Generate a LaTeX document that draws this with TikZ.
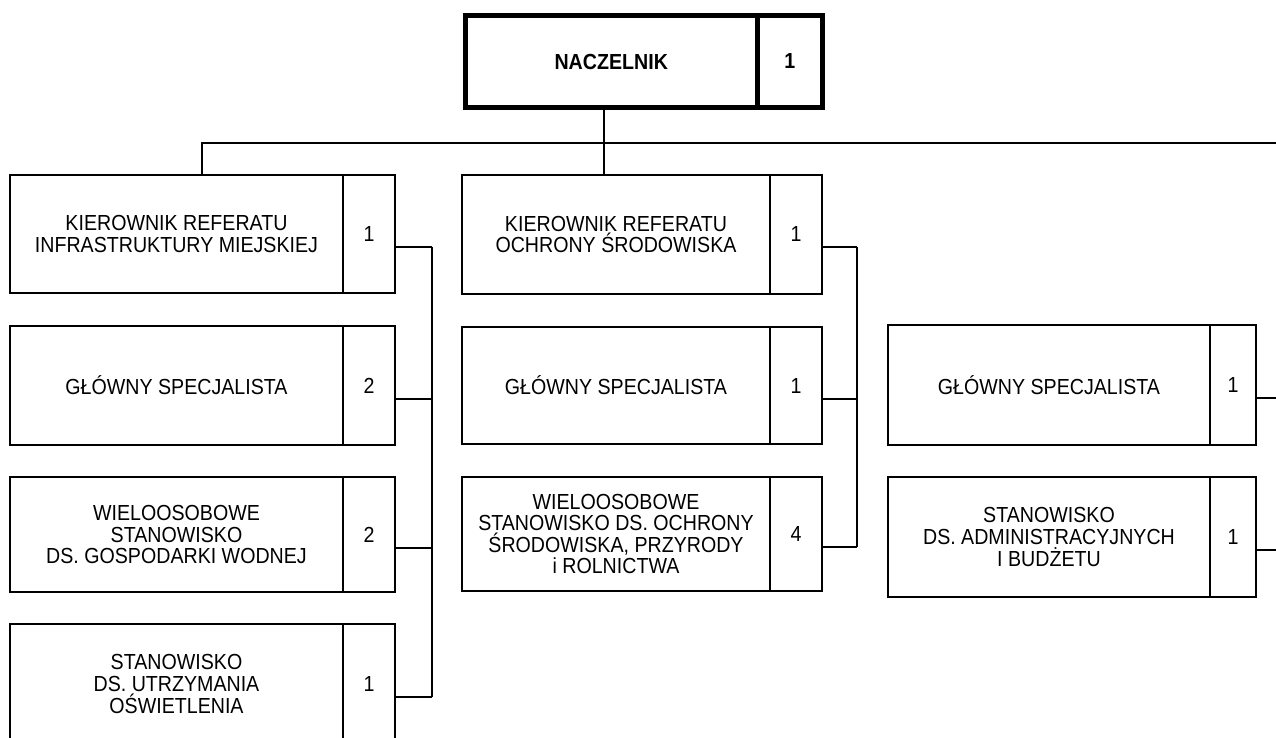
\documentclass[tikz,border=0pt]{standalone}
\usepackage{fontspec}
\setmainfont[FakeStretch=0.9]{Liberation Sans}
\begin{document}
\begin{tikzpicture}[x=0.5pt,y=-0.5pt,
    every node/.style={inner sep=0pt, outer sep=0pt, align=center, font=\fontsize{10.9}{10.8}\selectfont},
    unit/.style={draw, line width=1pt, anchor=north west},
    head/.style={draw, line width=2.5pt, anchor=north west, font=\bfseries\fontsize{10.9}{10.8}\selectfont},
    link/.style={line width=1pt}]
    \useasboundingbox (0,0) rectangle (1276,738);
    \clip (0,0) rectangle (1276,738);

    % naczelnik
    \node[head, minimum width=145.75pt, minimum height=46pt] (nacz) at (465.5,15.5) {NACZELNIK};
    \node[head, minimum width=32.75pt, minimum height=46pt] (nacz-n) at (nacz.north east) {1};

    % referat infrastruktury miejskiej
    \node[unit, minimum width=166.5pt, minimum height=59pt] (kinf) at (10,175) {KIEROWNIK REFERATU\\INFRASTRUKTURY MIEJSKIEJ};
    \node[unit, minimum width=26pt, minimum height=59pt] (kinf-n) at (kinf.north east) {1};
    \node[unit, minimum width=166.5pt, minimum height=59.5pt] (gs1) at (10,326) {GŁÓWNY SPECJALISTA};
    \node[unit, minimum width=26pt, minimum height=59.5pt] (gs1-n) at (gs1.north east) {2};
    \node[unit, minimum width=166.5pt, minimum height=57.5pt] (wgw) at (10,477) {WIELOOSOBOWE\\STANOWISKO\\DS. GOSPODARKI WODNEJ};
    \node[unit, minimum width=26pt, minimum height=57.5pt] (wgw-n) at (wgw.north east) {2};
    \node[unit, minimum width=166.5pt, minimum height=60pt] (sow) at (10,624) {STANOWISKO\\DS. UTRZYMANIA\\OŚWIETLENIA};
    \node[unit, minimum width=26pt, minimum height=60pt] (sow-n) at (sow.north east) {1};

    % referat ochrony srodowiska
    \node[unit, minimum width=154pt, minimum height=59.5pt] (kos) at (462,175) {KIEROWNIK REFERATU\\OCHRONY ŚRODOWISKA};
    \node[unit, minimum width=26pt, minimum height=59.5pt] (kos-n) at (kos.north east) {1};
    \node[unit, minimum width=154pt, minimum height=58.5pt] (gs2) at (462,327) {GŁÓWNY SPECJALISTA};
    \node[unit, minimum width=26pt, minimum height=58.5pt] (gs2-n) at (gs2.north east) {1};
    \node[unit, minimum width=154pt, minimum height=57pt] (wos) at (462,477) {WIELOOSOBOWE\\STANOWISKO DS. OCHRONY\\ŚRODOWISKA, PRZYRODY\\i ROLNICTWA};
    \node[unit, minimum width=26pt, minimum height=57pt] (wos-n) at (wos.north east) {4};

    % trzecia kolumna
    \node[unit, minimum width=161pt, minimum height=60pt] (gs3) at (888,325) {GŁÓWNY SPECJALISTA};
    \node[unit, minimum width=23pt, minimum height=60pt] (gs3-n) at (gs3.north east) {1};
    \node[unit, minimum width=161pt, minimum height=60pt] (sab) at (888,477) {STANOWISKO\\DS. ADMINISTRACYJNYCH\\I BUDŻETU};
    \node[unit, minimum width=23pt, minimum height=60pt] (sab-n) at (sab.north east) {1};

    \coordinate (trunk) at (604,143);
    \coordinate (lbus) at (432,0);
    \coordinate (mbus) at (857,0);
    \coordinate (edge) at (1276,0);

    % polaczenia
    \draw[link] ([yshift=-1.25pt]nacz.south -| trunk) -- (trunk) -- (kos.north -| trunk);
    \draw[link] (kinf.north -| 202,0) -- (trunk -| 202,0) -- (trunk -| edge);

    \foreach \n in {kinf,gs1,wgw,sow}
        \draw[link] ([yshift=-6.5pt]\n-n.east) -- ([yshift=-6.5pt]\n-n.east -| lbus);
    \draw[link] ([yshift=-6.5pt]kinf-n.east -| lbus) -- ([yshift=-6.5pt]sow-n.east -| lbus);

    \foreach \n in {kos,gs2,wos}
        \draw[link] ([yshift=-6.5pt]\n-n.east) -- ([yshift=-6.5pt]\n-n.east -| mbus);
    \draw[link] ([yshift=-6.5pt]kos-n.east -| mbus) -- ([yshift=-6.5pt]wos-n.east -| mbus);

    \foreach \n in {gs3,sab}
        \draw[link] ([yshift=-6.5pt]\n-n.east) -- ([yshift=-6.5pt]\n-n.east -| edge);
\end{tikzpicture}
\end{document}
